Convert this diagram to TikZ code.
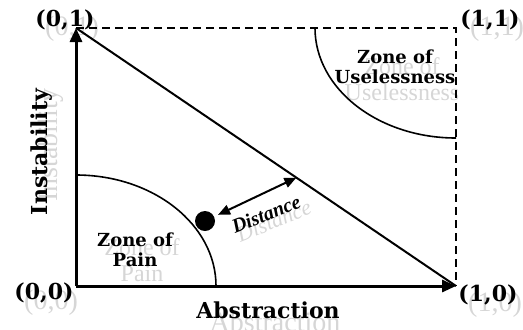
\documentclass[tikz,border=0pt]{standalone}
\usepackage{fontspec}
\setmainfont{DejaVu Serif}
\newfontfamily\ghostfont{Liberation Serif}
\newfontfamily\distfont{Liberation Serif}
\usetikzlibrary{calc,positioning,arrows.meta}

\begin{document}
\begin{tikzpicture}[x=0.5pt,y=0.5pt,
    axis/.style={line width=1.5pt, -{Triangle[length=7pt,width=6pt]}},
    bound/.style={line width=0.9pt, dash pattern=on 4pt off 2.5pt},
    zoneline/.style={line width=0.8pt},
    distarrow/.style={line width=1pt, {Triangle[length=6pt,width=5pt]}-{Triangle[length=6pt,width=5pt]}},
    lbl/.style={inner sep=0pt, font=\fontsize{11}{12}\selectfont\bfseries},
    zonelbl/.style={inner sep=0pt, align=center, font=\fontsize{9}{10}\selectfont\bfseries},
    ghost/.style={inner sep=0pt, align=center, text=gray!32, font=\ghostfont\fontsize{14}{15}\selectfont},
    ghostzone/.style={ghost, font=\ghostfont\fontsize{12}{13}\selectfont},
    spot/.style={circle, fill=black, inner sep=0pt, minimum size=10pt},
  ]
  \useasboundingbox (0,0) rectangle (523,329);

  % corners of the unit square
  \coordinate (O) at (76,43);
  \coordinate (X) at (456,43);
  \coordinate (Y) at (76,301);
  \coordinate (C) at (456,301);

  % shadow copies of the texts
  \node[ghost] at (72,300) {(0,1)};
  \node[ghost] at (497,300) {(1,1)};
  \node[ghost] at (51,26) {(0,0)};
  \node[ghost] at (495,24) {(1,0)};
  \node[ghost] at (275,7) {Abstraction};
  \node[ghost, rotate=90] at (51,184) {Instability};
  \node[ghostzone] at (142,69) {Zone of\\Pain};
  \node[ghostzone] at (402,250) {Zone of\\Uselessness};
  \node[ghost, rotate=22, font=\ghostfont\itshape\fontsize{11}{12}\selectfont] at (274,108) {Distance};

  % frame
  \draw[bound] (Y) -- (C) -- (X);
  \draw[zoneline, line width=1pt] (Y) -- (X);
  \draw[axis] (O) -- (X);
  \draw[axis] (O) -- (Y);

  % zones
  \draw[zoneline] ($(O)+(140,0)$) arc[start angle=0, end angle=90, x radius=140, y radius=111];
  \draw[zoneline] ($(C)+(-141,0)$) arc[start angle=180, end angle=270, x radius=141, y radius=110];

  % distance to the main sequence
  \node[spot] (dot) at (205,108) {};
  \coordinate (foot) at ($(Y)!0.58!(X)$);
  \draw[distarrow, shorten <=2pt] (dot) -- (foot);

  % labels
  \node[lbl] (l01) at (65,309) {(0,1)};
  \node[lbl] (l11) at (490,309) {(1,1)};
  \node[lbl] (l00) at (44,36) {(0,0)};
  \node[lbl] (l10) at (488,34) {(1,0)};
  \node[lbl] (absx) at (268,19) {Abstraction};
  \node[lbl, rotate=90] (insty) at (42,177) {Instability};
  \node[zonelbl] (pain) at (135,79) {Zone of\\Pain};
  \node[zonelbl] (useless) at (395,262) {Zone of\\Uselessness};
  \node[inner sep=0pt, rotate=22, font=\distfont\bfseries\itshape\fontsize{10}{12}\selectfont] (dist) at (266,115) {Distance};
\end{tikzpicture}
\end{document}
